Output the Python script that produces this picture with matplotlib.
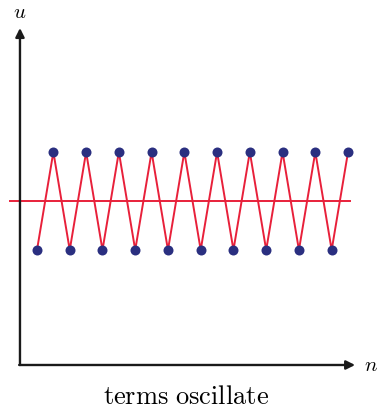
import matplotlib
matplotlib.use("Agg")
import matplotlib.pyplot as plt

# terms of an oscillating sequence
n_vals = list(range(1, 21))
u_vals = [-1, 1] * 10
limit = 0.0

plt.rcParams['mathtext.fontset'] = 'cm'

fig = plt.figure(figsize=(3.78, 4.11), dpi=100)
ax = fig.add_axes([0, 0, 1, 1])
ax.set_xlim(-1.26, 21.83)
ax.set_ylim(-4.286, 4.102)
ax.axis('off')

# axes with arrows
ox, oy = -0.04, -3.347
ax.annotate('', xy=(ox, 3.53), xytext=(ox, oy),
            arrowprops=dict(arrowstyle='-|>', lw=1.7, color='#1a1a1a', mutation_scale=13, shrinkA=0, shrinkB=0))
ax.annotate('', xy=(20.43, oy), xytext=(ox - 0.05, oy),
            arrowprops=dict(arrowstyle='-|>', lw=1.7, color='#1a1a1a', mutation_scale=13, shrinkA=0, shrinkB=0))
ax.text(ox, 3.86, r'$u$', fontsize=15, ha='center', va='center')
ax.text(21.4, oy, r'$n$', fontsize=15, ha='center', va='center')

# limit line and zigzag
ax.plot([-0.65, 20.12], [limit, limit], color='#e8203a', lw=1.4, zorder=2)
ax.plot(n_vals, u_vals, color='#e8203a', lw=1.4, zorder=2)
ax.plot(n_vals, u_vals, 'o', color='#2a2f80', ms=7.2, zorder=3, mec='none')

ax.text(10.1, -4.0, r'$\mathrm{terms\ oscillate}$', fontsize=19, ha='center', va='center')

fig.savefig('out.png', dpi=100)
